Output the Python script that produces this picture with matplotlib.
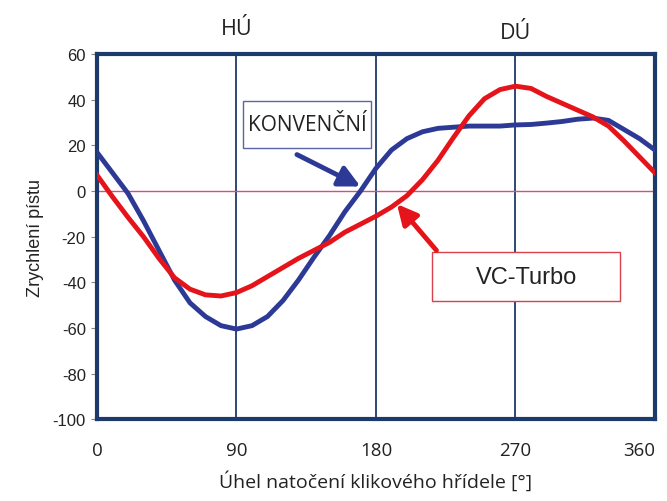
import matplotlib
matplotlib.use("Agg")
import matplotlib.pyplot as plt
from matplotlib.patches import Rectangle

# crank angle [deg]
angle = [0, 10, 20, 30, 40, 50, 60, 70, 80, 90, 100, 110, 120, 130, 140, 150,
         160, 170, 180, 190, 200, 210, 220, 230, 240, 250, 260, 270, 280, 290,
         300, 310, 320, 330, 340, 350, 360]

# piston acceleration
konvencni = [17, 8, -1, -13, -26, -39, -49, -55, -59, -60.5, -59, -55, -48,
             -39, -29, -19.5, -9, 0, 10, 18, 23, 26, 27.5, 28, 28.5, 28.5,
             28.5, 29, 29.2, 29.8, 30.5, 31.5, 32, 31, 27, 23, 18]
vc_turbo = [7, -2.5, -11.5, -20, -29.5, -38, -43, -45.5, -46, -44.5, -41.5,
            -37.5, -33.5, -29.5, -26, -22.5, -18, -14.5, -11, -7, -2, 5, 13.5,
            23.5, 33, 40.5, 44.5, 46, 45, 41.5, 38.5, 35.5, 32.5, 28.5, 22,
            15, 8]

xticks = [0, 90, 180, 270, 360]
yticks = [60, 40, 20, 0, -20, -40, -60, -80, -100]

navy = "#1c3a6c"
blue = "#2c3a96"
red = "#e5141b"
txt = "#222222"

plt.rcParams["font.family"] = ["Liberation Sans", "DejaVu Sans"]
plt.rcParams["axes.unicode_minus"] = False

fig = plt.figure(figsize=(6.67, 5.02), dpi=100)
ax = fig.add_axes([0.1454, 0.163, 0.8366, 0.727])

for v in [90, 180, 270]:
    ax.axvline(v, color=navy, lw=1.3, zorder=1)
ax.axhline(0, color="#d4507c", lw=1.0, zorder=1)

ax.plot(angle, konvencni, color=blue, lw=3.5, zorder=3)
ax.plot(angle, vc_turbo, color=red, lw=3.5, zorder=3)

ax.set_xlim(0, 360)
ax.set_ylim(-100, 60)
ax.set_xticks(xticks)
ax.set_yticks(yticks)
ax.tick_params(axis="x", length=0, pad=16, labelcolor=txt)
ax.tick_params(axis="y", length=4, width=0.8, color="#888888", pad=4,
               labelsize=12, labelcolor=txt)
for lab in ax.get_xticklabels():
    lab.set_fontfamily("Open Sans")
    lab.set_fontsize(13.5)
ax.get_xticklabels()[-1].set_horizontalalignment("right")
for s in ax.spines.values():
    s.set_color(navy)
    s.set_linewidth(3)

ax.set_xlabel("Úhel natočení klikového hřídele [°]", fontsize=14,
              family="Open Sans", color=txt, labelpad=8)
ax.set_ylabel("Zrychlení pístu", fontsize=13, color=txt, labelpad=6)

# top labels
ax.text(90, 1.07, "HÚ", transform=ax.get_xaxis_transform(), ha="center",
        va="center", fontsize=15.5, family="Open Sans", color=txt)
ax.text(270, 1.06, "DÚ", transform=ax.get_xaxis_transform(), ha="center",
        va="center", fontsize=15.5, family="Open Sans", color=txt)

# KONVENČNÍ callout
ax.add_patch(Rectangle((0.2616, 0.7425), 0.2294, 0.1288, transform=ax.transAxes,
                       facecolor="white", edgecolor="#5a64a8", lw=1.0, zorder=4))
ax.text(0.2616 + 0.1147, 0.7425 + 0.0644, "KONVENČNÍ", transform=ax.transAxes,
        ha="center", va="center", fontsize=15, family="Open Sans", color=txt,
        zorder=5)
ax.annotate("", xy=(170, 2), xytext=(129, 16),
            arrowprops=dict(arrowstyle="-|>", color=blue, lw=3.5,
                            mutation_scale=32, shrinkA=0, shrinkB=0), zorder=5)

# VC-Turbo callout
ax.add_patch(Rectangle((0.6004, 0.3233), 0.3369, 0.1342, transform=ax.transAxes,
                       facecolor="white", edgecolor="#d8404c", lw=1.0, zorder=4))
ax.text(0.6004 + 0.1685, 0.3233 + 0.0671, "VC-Turbo", transform=ax.transAxes,
        ha="center", va="center", fontsize=17, color=txt, zorder=5)
ax.annotate("", xy=(193.5, -5.7), xytext=(219, -26),
            arrowprops=dict(arrowstyle="-|>", color=red, lw=3.5,
                            mutation_scale=30, shrinkA=0, shrinkB=0), zorder=5)

fig.savefig("out.png", dpi=100)
